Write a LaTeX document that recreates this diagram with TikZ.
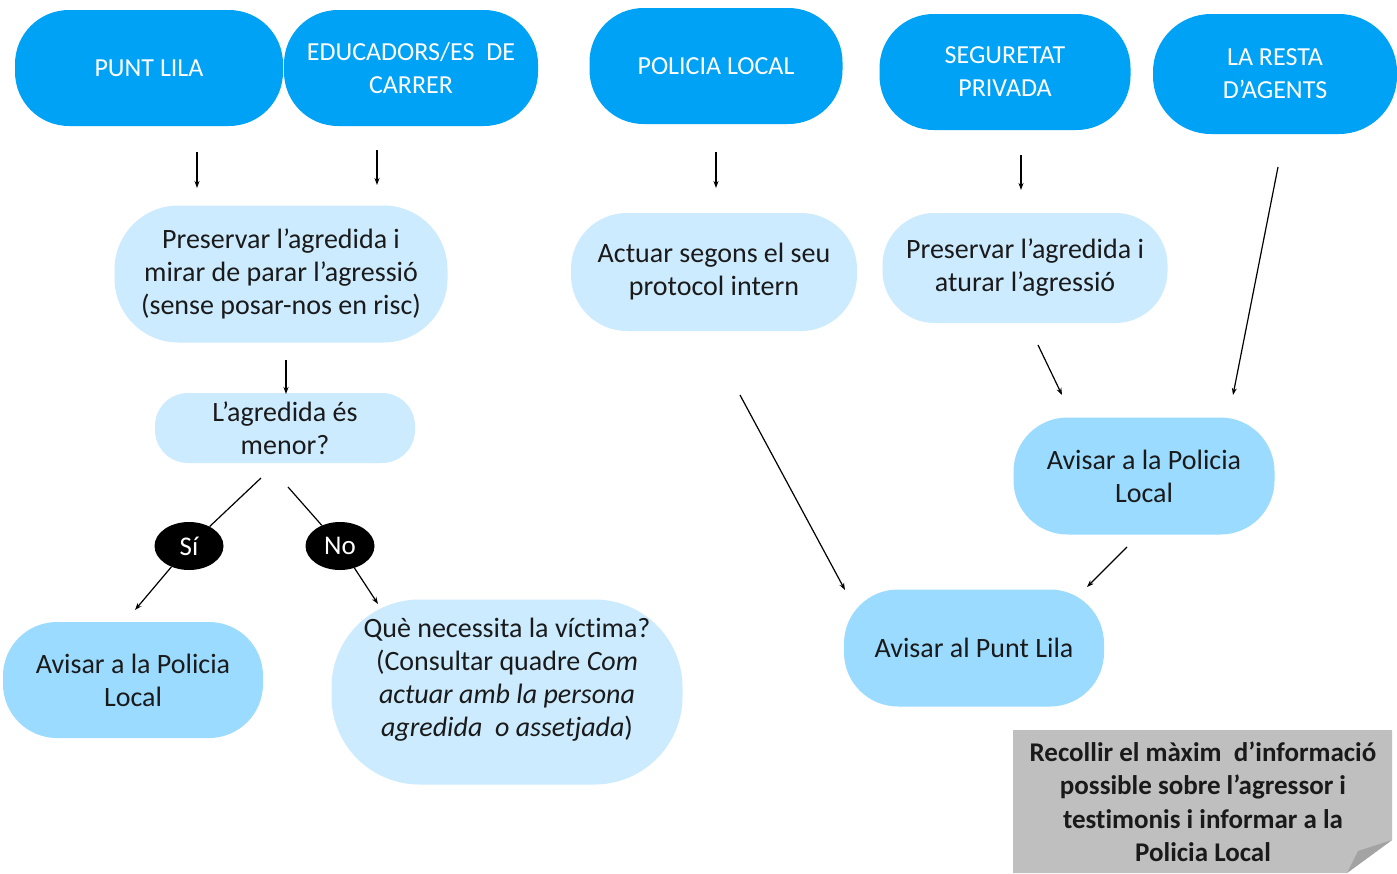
\documentclass[tikz,border=0pt]{standalone}
\usepackage{fontspec}
\setmainfont{Carlito}[Ligatures=NoCommon]
\usetikzlibrary{shapes.geometric,arrows.meta}
\definecolor{topblue}{HTML}{00A2F6}
\definecolor{lightblue}{HTML}{CCEBFF}
\definecolor{midblue}{HTML}{9BDBFF}
\definecolor{notegray}{HTML}{BFBFBF}
\definecolor{foldgray}{HTML}{A3A3A3}
\definecolor{ink}{HTML}{1A1A1A}
\begin{document}
\begin{tikzpicture}[x=1pt,y=-1pt,
  topbox/.style={rectangle, fill=topblue, text=white, rounded corners=54pt, inner sep=0pt, align=center,
    font=\fontsize{26}{33}\selectfont},
  lightbox/.style={rectangle, fill=lightblue, text=ink, rounded corners=50pt, inner sep=0pt, align=center,
    font=\fontsize{28}{33}\selectfont},
  midbox/.style={rectangle, fill=midblue, text=ink, rounded corners=54pt, inner sep=0pt, align=center,
    font=\fontsize{28}{33}\selectfont},
  badge/.style={ellipse, fill=black, text=white, minimum width=69pt, minimum height=48pt, inner sep=0pt,
    font=\fontsize{27}{28}\selectfont},
  arr/.style={draw=black, line width=1.2pt, -{Stealth[length=7pt,width=5pt]}},
  plain/.style={draw=black, line width=1.2pt}
]
\useasboundingbox (0,0) rectangle (1397,873);
\fill[white] (0,0) rectangle (1397,873);

% top row
\node[topbox, minimum width=268pt, minimum height=116pt] (puntlila) at (149,68) {PUNT LILA};
\node[topbox, minimum width=254pt, minimum height=116pt] (educ) at (411,68) {EDUCADORS/ES~ DE\\CARRER};
\node[topbox, minimum width=253pt, minimum height=116pt] (policia) at (716,66) {POLICIA LOCAL};
\node[topbox, minimum width=251pt, minimum height=116pt] (segur) at (1005,72) {SEGURETAT\\PRIVADA};
\node[topbox, minimum width=244pt, minimum height=120pt, rounded corners=58pt] (resta) at (1275,74) {LA RESTA\\D'AGENTS};

% second row
\node[lightbox, minimum width=333pt, minimum height=137pt, rounded corners=64pt] (pres1) at (281,274)
  {Preservar l'agredida i\\mirar de parar l'agressió\\(sense posar-nos en risc)};
\node[lightbox, minimum width=286pt, minimum height=118pt, rounded corners=56pt] (actuar) at (714,272)
  {Actuar segons el seu\\protocol intern};
\node[lightbox, minimum width=285pt, minimum height=110pt, rounded corners=52pt] (pres2) at (1025,268)
  {Preservar l'agredida i\\aturar l'agressió};

% question
\node[lightbox, minimum width=260pt, minimum height=70pt, rounded corners=33pt] (menor) at (285,428)
  {L'agredida és\\menor?};
\node[badge] (si) at (189,546) {Sí};
\node[badge] (no) at (340,546) {No};

% outcomes
\node[midbox, minimum width=260pt, minimum height=116pt] (avis1) at (133,680) {Avisar a la Policia\\Local};
\node[lightbox, minimum width=351pt, minimum height=185pt, rounded corners=88pt] (neces) at (507,692)
  {Què necessita la víctima?\\(Consultar quadre \textit{Com}\\\textit{actuar amb la persona}\\\textit{agredida~ o assetjada})\\[-4pt]};
\node[midbox, minimum width=261pt, minimum height=117pt] (avis2) at (1144,476) {Avisar a la Policia\\Local};
\node[midbox, minimum width=260pt, minimum height=117pt] (avispl) at (974,648) {Avisar al Punt Lila};

% note
\fill[notegray] (1013,730) -- (1392,730) -- (1392,840) -- (1347,873) -- (1013,873) -- cycle;
\fill[foldgray] (1392,840) -- (1358,851) -- (1347,873) -- cycle;
\node[text=ink, align=center, font=\bfseries\fontsize{27}{33.5}\selectfont] (note) at (1203,802)
  {Recollir el màxim~ d'informació\\possible sobre l'agressor i\\testimonis i informar a la\\Policia Local};

% arrow end points
\coordinate (p1s) at (197,152); \coordinate (p1e) at (197,188);
\coordinate (e1s) at (377,150); \coordinate (e1e) at (377,185);
\coordinate (m1s) at (286,360); \coordinate (m1e) at (286,394);
\coordinate (sis) at (261,478); \coordinate (sie) at (135,610);
\coordinate (nos) at (288,487); \coordinate (noe) at (378,604);
\coordinate (pls) at (716,152); \coordinate (ple) at (716,188);
\coordinate (sgs) at (1021,155); \coordinate (sge) at (1021,190);
\coordinate (acs) at (740,395); \coordinate (ace) at (845,590);
\coordinate (prs) at (1038,345); \coordinate (pre) at (1062,395);
\coordinate (rss) at (1278,167); \coordinate (rse) at (1233,395);
\coordinate (avs) at (1127,547); \coordinate (ave) at (1087,587);

\draw[arr] (p1s) -- (p1e);
\draw[arr] (e1s) -- (e1e);
\draw[arr] (m1s) -- (m1e);
\draw[plain] (sis) -- (si);
\draw[arr] (si) -- (sie);
\draw[plain] (nos) -- (no);
\draw[arr] (no) -- (noe);
\draw[arr] (pls) -- (ple);
\draw[arr] (sgs) -- (sge);
\draw[arr] (acs) -- (ace);
\draw[arr] (prs) -- (pre);
\draw[arr] (rss) -- (rse);
\draw[arr] (avs) -- (ave);
\end{tikzpicture}
\end{document}
